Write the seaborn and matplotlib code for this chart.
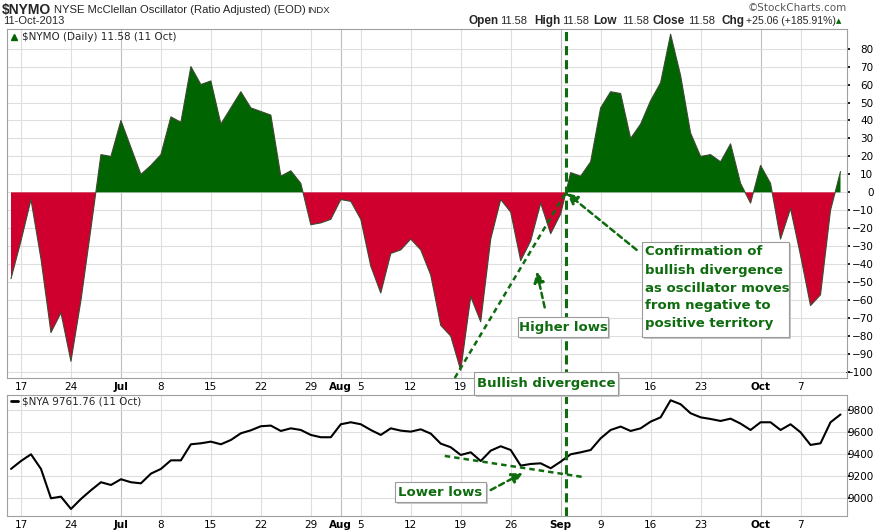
import numpy as np
import pandas as pd
import matplotlib
matplotlib.use("Agg")
import matplotlib.pyplot as plt
from matplotlib.patches import Rectangle
import seaborn as sns

# trading days shown on the chart (Jul 4 and Labor Day closed)
dates = pd.bdate_range("2013-06-14", "2013-10-11")
dates = dates[~dates.isin(pd.to_datetime(["2013-07-04", "2013-09-02"]))]

# $NYMO daily values
nymo = [
    -48, -27, -4, -37, -78, -67, -94, -60, -20, 21, 20,
    40, 25, 10, 15, 21, 42, 39, 70, 60, 62, 38, 47, 56, 47, 45, 43, 9, 12, 5, -18, -17, -15,
    -4, -5, -15, -41, -56, -34, -32, -26, -32, -46, -74, -80, -99, -58, -72, -26, -4, -11, -38, -27, -6, -23,
    -12, 11, 9, 17, 47, 56, 55, 30, 38, 51, 61, 88, 65, 33, 20, 21, 17, 27, 5, -6,
    15, 5, -26, -9, -35, -63, -57, -10, 11.58,
]

# $NYA closes
nya = [
    9267, 9339, 9400, 9267, 9000, 9015, 8903, 8994, 9073, 9146, 9121,
    9173, 9146, 9136, 9224, 9267, 9345, 9345, 9491, 9500, 9515, 9491, 9530, 9591, 9618, 9655, 9661,
    9612, 9636, 9621, 9576, 9555, 9555,
    9673, 9691, 9673, 9621, 9576, 9636, 9615, 9606, 9627, 9588, 9497, 9464, 9394, 9418, 9339, 9433,
    9473, 9439, 9297, 9312, 9318, 9273,
    9333, 9400, 9418, 9439, 9545, 9621, 9652, 9612, 9636, 9697, 9736, 9891, 9855, 9773, 9736, 9721,
    9703, 9724, 9679, 9621,
    9691, 9691, 9621, 9673, 9600, 9485, 9500, 9691, 9761.76,
]

tick_dates = ["2013-06-17", "2013-06-24", "2013-07-01", "2013-07-08", "2013-07-15", "2013-07-22",
              "2013-07-29", "2013-08-01", "2013-08-05", "2013-08-12", "2013-08-19", "2013-08-26",
              "2013-09-03", "2013-09-09", "2013-09-16", "2013-09-23", "2013-10-01", "2013-10-07"]
tick_labels = ["17", "24", "Jul", "8", "15", "22", "29", "Aug", "5", "12", "19", "26",
               "Sep", "9", "16", "23", "Oct", "7"]
month_labels = ["Jul", "Aug", "Sep", "Oct"]
# these top-panel labels sit under the "Bullish divergence" note
hidden_top = ["2013-08-26", "2013-09-03", "2013-09-09"]

nymo_ticks = list(range(-100, 90, 10))
nya_ticks = [9000, 9200, 9400, 9600, 9800]

df = pd.DataFrame({"day": np.arange(len(dates)), "nymo": nymo, "nya": nya})
tick_pos = [dates.get_loc(pd.Timestamp(d)) for d in tick_dates]

GREEN = "#006400"
RED = "#d0002e"
ANN = "#0e6b0e"
GRID = "#dedede"
FRAME = "#a0a0a0"

sns.set_theme(style="white")
plt.rcParams["font.family"] = ["DejaVu Sans"]

W, H = 879, 532
fig = plt.figure(figsize=(W / 100, H / 100), dpi=100)
fig.patch.set_facecolor("white")


def fx(px):
    return px / W


def fy(py):
    return 1 - py / H


ax1 = fig.add_axes([fx(7), fy(378), fx(847) - fx(7), fy(29) - fy(378)])
ax2 = fig.add_axes([fx(7), fy(516), fx(847) - fx(7), fy(395) - fy(516)])

xlim = (-0.4, 83.65)
y = df["nymo"].to_numpy()
x = df["day"].to_numpy()

for ax in (ax1, ax2):
    ax.set_xlim(*xlim)
    ax.set_xticks(tick_pos)
    if ax is ax1:
        ax.set_xticklabels(["" if d in hidden_top else s for d, s in zip(tick_dates, tick_labels)])
    else:
        ax.set_xticklabels(tick_labels)
    for lab in ax.get_xticklabels():
        if lab.get_text() in month_labels:
            lab.set_fontweight("bold")
    for p, lab in zip(tick_pos, tick_labels):
        ax.axvline(p, color="#bdbdbd" if lab in month_labels else GRID, lw=0.8, zorder=0)
    ax.tick_params(axis="x", length=0, pad=3, labelsize=7.5, colors="black")
    ax.tick_params(axis="y", length=2, labelsize=7.5, left=False, labelleft=False,
                   right=True, labelright=True, colors="black")
    for s in ax.spines.values():
        s.set_color(FRAME)
        s.set_linewidth(0.8)

# top panel: oscillator area
ax1.set_ylim(-103.3, 90.9)
ax1.set_yticks(nymo_ticks)
for t in nymo_ticks:
    ax1.axhline(t, color=GRID, lw=0.8, zorder=0)
ax1.fill_between(x, y, 0, where=y >= 0, interpolate=True, color=GREEN, lw=0, zorder=2)
ax1.fill_between(x, y, 0, where=y <= 0, interpolate=True, color=RED, lw=0, zorder=2)
sns.lineplot(data=df, x="day", y="nymo", ax=ax1, color="#3c4a32", lw=0.8, zorder=3)
ax1.set_xlabel("")
ax1.set_ylabel("")

# bottom panel: NYSE composite
ax2.set_ylim(8839, 9939)
ax2.set_yticks(nya_ticks)
for t in nya_ticks:
    ax2.axhline(t, color=GRID, lw=0.8, zorder=0)
sns.lineplot(data=df, x="day", y="nya", ax=ax2, color="black", lw=1.5, zorder=3)
ax2.set_xlabel("")
ax2.set_ylabel("")

for ax in (ax1, ax2):
    for lab in ax.get_yticklabels():
        lab.set_horizontalalignment("right")
    ax.tick_params(axis="y", pad=17)

# legends inside panels
ax1.plot([0.0085], [0.978], marker="^", color=GREEN, ms=5, transform=ax1.transAxes, clip_on=False)
ax1.text(0.018, 0.978, r"\$NYMO (Daily) 11.58 (11 Oct)", transform=ax1.transAxes,
         fontsize=7.5, va="center", ha="left")
ax2.plot([0.005, 0.013], [0.95, 0.95], color="black", lw=2, transform=ax2.transAxes)
ax2.text(0.018, 0.95, r"\$NYA 9761.76 (11 Oct)", transform=ax2.transAxes,
         fontsize=7.5, va="center", ha="left")

# header
fig.text(fx(2), fy(10), r"\$NYMO", fontsize=10, fontweight="bold", va="center",
         family="Liberation Sans")
fig.text(fx(54), fy(10), "NYSE McClellan Oscillator (Ratio Adjusted) (EOD)", fontsize=8.1,
         va="center", family="Liberation Sans")
fig.text(fx(307), fy(10.5), "INDX", fontsize=6.8, va="center", family="Liberation Sans")
fig.text(fx(3), fy(21), "11-Oct-2013", fontsize=8, va="center", family="Liberation Sans")
fig.text(fx(847), fy(8), "\u00a9StockCharts.com", fontsize=7.5, va="center", ha="right",
         color="#555555")
hdr = [(469, "Open", True), (500, "11.58", False), (534, "High", True), (562, "11.58", False),
       (593, "Low", True), (622, "11.58", False), (653, "Close", True), (688, "11.58", False),
       (722, "Chg", True), (746, "+25.06 (+185.91%)", False)]
for px, s, b in hdr:
    fig.text(fx(px), fy(21), s, fontsize=8.5 if b else (7.6 if s.startswith("+") else 8),
             fontweight="bold" if b else "normal", va="center", family="Liberation Sans")
fig.text(fx(839), fy(21), "\u25b2", fontsize=5, color=GREEN, va="center", ha="center")

# crossover from negative to positive (Sep 3 -> Sep 4)
i0 = dates.get_loc(pd.Timestamp("2013-09-03"))
x_cross = i0 + (-y[i0]) / (y[i0 + 1] - y[i0])
i_low = dates.get_loc(pd.Timestamp("2013-08-19"))

for ax in (ax1, ax2):
    ax.axvline(x_cross, color=ANN, lw=2.2, ls=(0, (3, 1.6)), zorder=4)

ax1.plot([i_low - 0.6, x_cross], [-103.3, 0], color=ANN, lw=1.8, ls=(0, (2.2, 1.6)),
         zorder=4, clip_on=False)
arrow = dict(arrowstyle="-|>", color=ANN, lw=1.8, ls=(0, (2.2, 1.6)), mutation_scale=16,
             shrinkA=0, shrinkB=0)
ax1.annotate("", xy=(52.6, -44), xytext=(53.4, -64), arrowprops=arrow, zorder=5)
ax1.annotate("", xy=(x_cross + 0.1, -0.5), xytext=(62.6, -32), arrowprops=arrow, zorder=5)

ax2.plot([43.4, 57.2], [9385, 9194], color=ANN, lw=1.8, ls=(0, (2.2, 1.6)), zorder=4)
ax2.annotate("", xy=(51.2, 9230), xytext=(48.0, 9075), arrowprops=arrow, zorder=5)

# text boxes
boxes = [
    ((642, 242, 789, 337), ["Confirmation of", "bullish divergence", "as oscillator moves",
                            "from negative to", "positive territory"]),
    ((518, 317, 608, 337), ["Higher lows"]),
    ((474, 372, 618, 395), ["Bullish divergence"]),
    ((395, 482, 486, 502), ["Lower lows"]),
]
for (x0, y0, x1, y1), lines in boxes:
    fig.patches.append(Rectangle((fx(x0 + 2), fy(y1 + 2)), fx(x1 - x0), fy(y0) - fy(y1),
                                 transform=fig.transFigure, facecolor="#c8c8c8", edgecolor="none",
                                 zorder=9))
    fig.patches.append(Rectangle((fx(x0), fy(y1)), fx(x1 - x0), fy(y0) - fy(y1),
                                 transform=fig.transFigure, facecolor="white", edgecolor="#9a9a9a",
                                 lw=0.8, zorder=10))
    if len(lines) == 1:
        fig.text(fx((x0 + x1) / 2), fy((y0 + y1) / 2 + 0.5), lines[0], color=ANN, fontsize=9.5,
                 fontweight="bold", ha="center", va="center", zorder=11)
    else:
        for k, s in enumerate(lines):
            fig.text(fx(x0 + 3), fy(y0 + 10 + 18 * k), s, color=ANN, fontsize=9.5,
                     fontweight="bold", ha="left", va="center", zorder=11)

fig.savefig("out.png", dpi=100)
